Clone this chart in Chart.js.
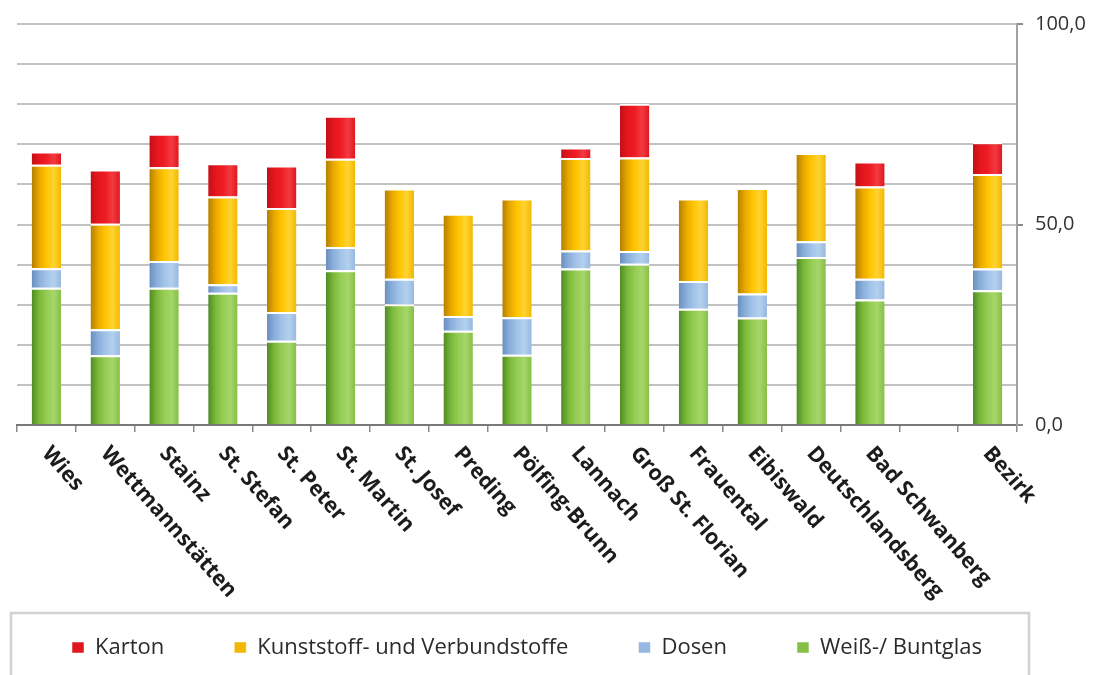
<!DOCTYPE html>
<html lang="de">
<head>
<meta charset="utf-8">
<title>Altstoffsammlung je Gemeinde</title>
<script src="https://cdn.jsdelivr.net/npm/chart.js@4/dist/chart.umd.min.js"></script>
<style>
  html, body { margin: 0; padding: 0; background: #fff; overflow: hidden; }
  #wrap { position: relative; width: 1094px; height: 675px; }
</style>
</head>
<body>
<div id="wrap"><canvas id="chart"></canvas></div>
<script>
// Gemeinden des Bezirks, die Lücke trennt den Bezirkswert ab
const categories = ['Wies', 'Wettmannstätten', 'Stainz', 'St. Stefan', 'St. Peter', 'St. Martin',
  'St. Josef', 'Preding', 'Pölfing-Brunn', 'Lannach', 'Groß St. Florian', 'Frauental',
  'Eibiswald', 'Deutschlandsberg', 'Bad Schwanberg', '', 'Bezirk'];

const glas       = [34.2, 17.4, 34.2, 33.0, 21.0, 38.6, 30.1, 23.5, 17.5, 39.0, 40.2, 29.0, 26.8, 41.9, 31.3, null, 33.6];
const dosen      = [4.9, 6.5, 6.7, 2.1, 7.2, 5.8, 6.4, 3.7, 9.4, 4.5, 3.2, 6.9, 6.0, 3.9, 5.2, null, 5.4];
const kunststoff = [25.8, 26.3, 23.4, 21.9, 25.9, 22.0, 22.5, 25.5, 29.6, 23.1, 23.3, 20.6, 26.3, 22.0, 23.0, null, 23.6];
const karton     = [3.3, 13.5, 8.3, 8.3, 10.6, 10.7, 0, 0, 0, 2.6, 13.4, 0, 0, 0, 6.2, null, 7.9];

const yTicks = [0, 50, 100];

// horizontal gradient across each bar for the cylinder look
function shaded(flat, stops) {
  return ctx => {
    const x = ctx.chart.scales.x;
    if (ctx.type !== 'data' || !x) return flat;
    const cx = x.getPixelForValue(ctx.dataIndex);
    const half = x.width / categories.length * 0.25;
    if (!isFinite(cx) || !isFinite(half) || half <= 0) return flat;
    const g = ctx.chart.ctx.createLinearGradient(cx - half, 0, cx + half, 0);
    stops.forEach((c, i) => g.addColorStop(i / (stops.length - 1), c));
    return g;
  };
}

const segment = {
  borderColor: '#ffffff',
  borderWidth: { top: 2, right: 0, bottom: 0, left: 0 },
  borderSkipped: false,
  categoryPercentage: 1,
  barPercentage: 0.5
};

// category labels run downwards to the right, drawn by hand
const slantedLabels = {
  id: 'slantedLabels',
  afterDraw(chart) {
    const { ctx, scales: { x } } = chart;
    ctx.save();
    ctx.font = 'bold 21.5px "Open Sans"';
    ctx.fillStyle = '#1c1c1c';
    ctx.textBaseline = 'alphabetic';
    categories.forEach((label, i) => {
      if (!label) return;
      ctx.save();
      ctx.translate(x.getPixelForValue(i) + 6, x.top + 19);
      ctx.rotate(48.5 * Math.PI / 180);
      ctx.fillText(label, 0, 15);
      ctx.restore();
    });
    ctx.restore();
  }
};

// the legend row is centred on its own frame, not on the full canvas width
const legendFrame = {
  id: 'legendFrame',
  afterLayout(chart) {
    const lg = chart.legend;
    lg.left = -6;
    lg.right = 1060;
    lg.width = lg.right - lg.left;
  },
  afterDraw(chart) {
    const { ctx } = chart;
    ctx.save();
    ctx.strokeStyle = '#d2d2d2';
    ctx.lineWidth = 2.5;
    ctx.strokeRect(11, 613, 1018, 100);
    ctx.restore();
  }
};

new Chart(document.getElementById('chart'), {
  type: 'bar',
  data: {
    labels: categories,
    datasets: [
      { label: 'Weiß-/ Buntglas', data: glas, ...segment,
        backgroundColor: shaded('#8cc63f', ['#4f8a24', '#7ab83a', '#95cc52', '#a5d66a', '#86bf45']) },
      { label: 'Dosen', data: dosen, ...segment,
        backgroundColor: shaded('#8eb4e3', ['#6a8fbf', '#89aedb', '#a2c2e8', '#b3d0ee', '#97b8e0']) },
      { label: 'Kunststoff- und Verbundstoffe', data: kunststoff, ...segment,
        backgroundColor: shaded('#ffc000', ['#b37f00', '#e8a800', '#ffc400', '#ffd332', '#f2b800']) },
      { label: 'Karton', data: karton, ...segment,
        backgroundColor: shaded('#ed1c24', ['#c40f16', '#e3161e', '#ee1c24', '#f23a40', '#e0171f']) }
    ]
  },
  options: {
    responsive: true,
    maintainAspectRatio: false,
    animation: false,
    events: [],
    layout: { padding: { left: 17, right: 0, top: 24, bottom: 6.5 } },
    plugins: {
      tooltip: { enabled: false },
      legend: {
        position: 'bottom',
        reverse: true,
        labels: {
          boxWidth: 12,
          boxHeight: 11,
          padding: 70,
          color: '#2b2b2b',
          font: { family: 'Open Sans', size: 22 }
        }
      }
    },
    scales: {
      x: {
        stacked: true,
        grid: { offset: true, drawOnChartArea: false, tickLength: 7, color: '#8a8a8a', lineWidth: 1.5 },
        border: { color: '#7a7a7a', width: 2 },
        ticks: { display: false },
        afterFit: s => { s.height = 141.5; }
      },
      y: {
        position: 'right',
        stacked: true,
        min: 0,
        max: 100,
        ticks: {
          stepSize: 10,
          padding: 12,
          color: '#333333',
          font: { family: 'Open Sans', size: 20 },
          callback: v => yTicks.includes(v) ? v.toFixed(1).replace('.', ',') : ''
        },
        grid: {
          color: '#c2c2c2',
          lineWidth: 2,
          tickLength: 6,
          tickColor: c => yTicks.includes(c.tick.value) ? '#8a8a8a' : 'rgba(0,0,0,0)'
        },
        border: { color: '#a0a0a0', width: 2 },
        afterFit: s => { s.width = 77; }
      }
    }
  },
  plugins: [slantedLabels, legendFrame]
});
</script>
</body>
</html>
